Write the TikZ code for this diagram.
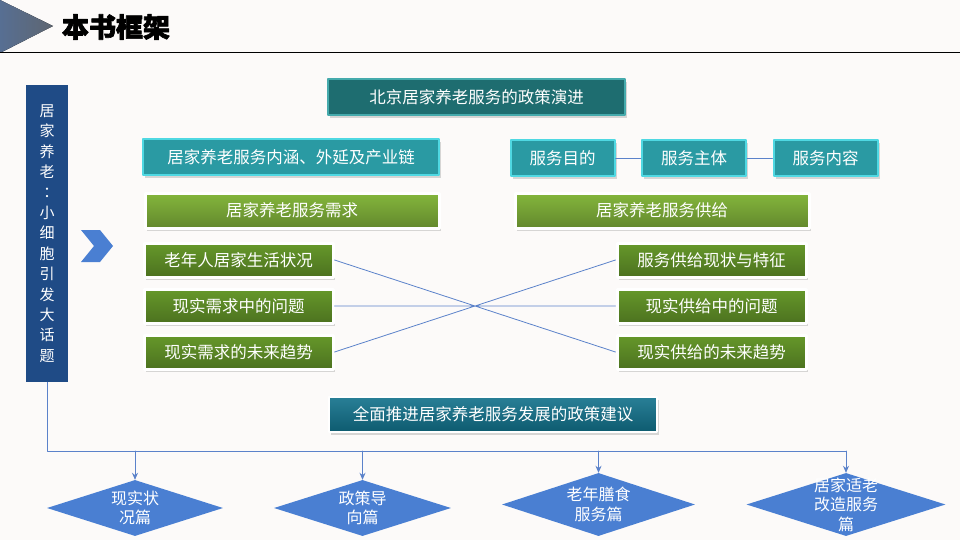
\documentclass[tikz,border=0pt]{standalone}
\usepackage{fontspec}
\setmainfont{Noto Sans CJK SC}
\newfontfamily\cjktc{Noto Sans CJK TC}
\newfontfamily\tieudefont[BoldFeatures={FakeBold=2.5}]{Noto Sans CJK SC}
\usetikzlibrary{shapes.geometric,shadows,arrows.meta}
\definecolor{nen}{HTML}{FCFAF9}
\definecolor{xamtieude}{HTML}{5E6671}
\definecolor{xanhdam}{HTML}{1F4B86}
\definecolor{muiten}{HTML}{4A7FD2}
\definecolor{tealdam}{HTML}{1E6D70}
\definecolor{tealvien}{HTML}{45AAAC}
\definecolor{tealnen}{HTML}{2A9AA3}
\definecolor{tealsang}{HTML}{4FD8E2}
\definecolor{xanhla}{HTML}{84B63C}
\definecolor{xanhlatoi}{HTML}{66982A}
\definecolor{xanhbien}{HTML}{11718B}
\definecolor{duongnoi}{HTML}{5B82CA}
\begin{document}
\begin{tikzpicture}[x=1pt, y=-1pt, font=\fontsize{16.5}{19}\selectfont, line join=round, line cap=round, >={Stealth[length=7pt,width=6pt]},
	bong/.style={drop shadow={shadow xshift=2pt, shadow yshift=-3pt, opacity=.3}},
	hop/.style={inner sep=0pt, minimum height=36, text=white},
	hoptoi/.style={hop, fill=tealdam, draw=tealvien, line width=2pt, bong},
	hopteal/.style={hop, fill=tealnen, draw=tealsang, line width=2pt, bong},
	hoplon/.style={hop, minimum height=35, top color=xanhla, bottom color=xanhla!75!black, draw=white, line width=3pt, bong},
	hopnho/.style={hop, minimum height=34, top color=xanhlatoi, bottom color=xanhlatoi!75!black, draw=white, line width=3pt, bong},
	hopcuoi/.style={hop, minimum height=35, top color=xanhbien!90!white, bottom color=xanhbien!80!black, draw=white, line width=2.5pt, bong},
	thoi/.style={diamond, fill=muiten, inner sep=0pt},
	chuthoi/.style={text=white, align=center, font=\fontsize{16}{19.5}\selectfont},
	noi/.style={draw=duongnoi, line width=.8pt}]
	\def\w{189} % be rong hop nho
	\def\xt{238.5} % cot trai
	\def\xp{711.5} % cot phai
	\fill[nen] (0,0) rectangle (960,540);
	\useasboundingbox (0,0) rectangle (960,540);
	% tieu de
	\fill[left color=muiten!35!xamtieude, right color=xamtieude] (0,0)--(53,26)--(0,53)--cycle;
	\draw[line width=1pt] (0,53)--(960,53);
	\node[font=\fontsize{27}{30}\tieudefont\bfseries] (tieude) at (116,27) {本书框架};
	% cot ben trai
	\node[fill=xanhdam, minimum width=42, minimum height=297, inner sep=0pt, text=white, align=center, font=\fontsize{15}{20.4}\selectfont] (ben) at (47,233.5)
		{居\\家\\养\\老\\{\cjktc ：}\\小\\细\\胞\\引\\发\\大\\话\\题};
	\fill[muiten] (81,230)--(100,230)--(113,246)--(100,262)--(81,262)--(94,246)--cycle;
	% cac hop
	\node[hoptoi, minimum width=297] (chinhsach) at (476.5,97.5) {北京居家养老服务的政策演进};
	\node[hopteal, minimum width=296] (noiham) at (291,157.5) {居家养老服务内涵、外延及产业链};
	\node[hopteal, minimum width=104] (mucdich) at (562.5,158) {服务目的};
	\node[hopteal, minimum width=104] (chuthe) at (694,158) {服务主体};
	\node[hopteal, minimum width=104] (noidung) at (825.5,158) {服务内容};
	\node[hoplon, minimum width=294] (cau) at (292,210.5) {居家养老服务需求};
	\node[hoplon, minimum width=294] (cung) at (662,210.5) {居家养老服务供给};
	\node[hopnho, minimum width=\w] (t1) at (\xt,260) {老年人居家生活状况};
	\node[hopnho, minimum width=\w] (t2) at (\xt,306) {现实需求中的问题};
	\node[hopnho, minimum width=\w] (t3) at (\xt,352) {现实需求的未来趋势};
	\node[hopnho, minimum width=\w] (p1) at (\xp,260) {服务供给现状与特征};
	\node[hopnho, minimum width=\w] (p2) at (\xp,306) {现实供给中的问题};
	\node[hopnho, minimum width=\w] (p3) at (\xp,352) {现实供给的未来趋势};
	\node[hopcuoi, minimum width=328] (kiennghi) at (493,414.5) {全面推进居家养老服务发展的政策建议};
	\draw[noi] (mucdich)--(chuthe) (chuthe)--(noidung);
	\draw[noi] (t1.east)--(p3.west) (t2.east)--(p2.west) (t3.east)--(p1.west);
	% bon thien
	\node[thoi, minimum width=176, minimum height=56] (d1) at (135,508) {};
	\node[thoi, minimum width=177, minimum height=56] (d2) at (362.5,508) {};
	\node[thoi, minimum width=193, minimum height=63] (d3) at (598.5,504.5) {};
	\node[thoi, minimum width=199, minimum height=63] (d4) at (846,504.5) {};
	\node[chuthoi] (c1) at (d1) {现实状\\况篇};
	\node[chuthoi] (c2) at (d2) {政策导\\向篇};
	\node[chuthoi] (c3) at (d3) {老年膳食\\服务篇};
	\node[chuthoi] (c4) at (d4) {居家适老\\改造服务\\篇};
	\coordinate (truc) at (47,451);
	\draw[noi] (ben.south)--(ben.south |- truc)--(d4.north |- truc);
	\foreach \d in {d1,d2,d3,d4} \draw[noi,->] (\d.north |- truc)--(\d.north);
\end{tikzpicture}
\end{document}
